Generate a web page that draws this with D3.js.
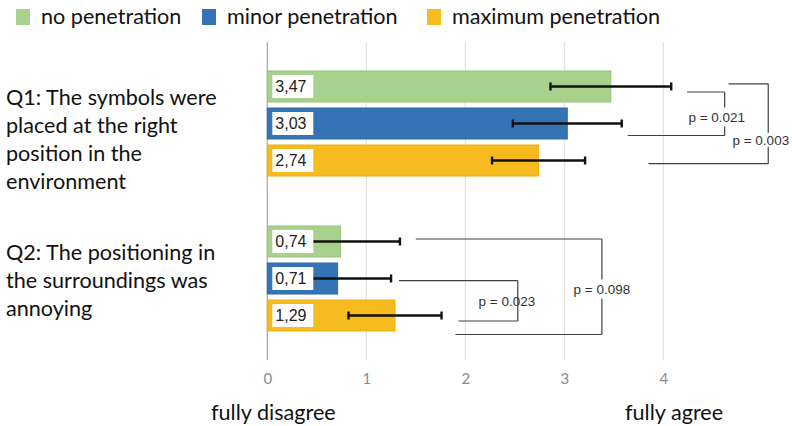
<!DOCTYPE html>
<html><head><meta charset="utf-8">
<script src="https://cdn.jsdelivr.net/npm/d3@7"></script>
<style>body{margin:0;background:#fff}</style>
</head><body><svg id="c" width="792" height="426"></svg>
<script>
// ---------- data ----------
const questions = ["Q1", "Q2"];
const questionLabels = [
  ["Q1: The symbols were", "placed at the right", "position in the", "environment"],
  ["Q2: The positioning in", "the surroundings was", "annoying"]
];
const series = ["no penetration", "minor penetration", "maximum penetration"];
const meansQ1 = [3.47, 3.03, 2.74];
const meansQ2 = [0.74, 0.71, 1.29];
const sdQ1 = [0.61, 0.55, 0.47];
const sdQ2 = [0.60, 0.54, 0.47];
const valueLabelsQ1 = ["3,47", "3,03", "2,74"];
const valueLabelsQ2 = ["0,74", "0,71", "1,29"];
const tickValues = [0, 1, 2, 3, 4];
const axisEndLabels = ["fully disagree", "fully agree"];
// significance brackets: question, upper series, lower series, p text,
// value where top arm starts, value where bottom arm starts, value of vertical line
const bracketQuestion = ["Q1", "Q1", "Q2", "Q2"];
const bracketTop = [0, 0, 1, 0];
const bracketBottom = [1, 2, 2, 2];
const bracketText = ["p = 0.021", "p = 0.003", "p = 0.023", "p = 0.098"];
const bracketTopStart = [4.24, 4.66, 1.33, 1.50];
const bracketBottomStart = [3.64, 3.85, 1.93, 1.90];
const bracketVertical = [4.62, 5.06, 2.53, 3.38];
const bracketTextAt = [4.54, 4.985, 2.42, 3.38];

// ---------- styles / layout ----------
const colors = ["#a9d18e", "#3473b4", "#f6bb1e"];
const strokes = ["#96c47a", "#2f6aa6", "#eeb010"];
const bracketLayout = [ // px offsets: top arm, bottom arm, text from top arm, half-gap
  {top: 5.5, bot: 12, text: 25, gap: 9.5},
  {top: -2.7, bot: 3.2, text: 56, gap: 7},
  {top: 2.1, bot: 5.5, text: 21, gap: 0},
  {top: -2.5, bot: 19, text: 50, gap: 9.5}
];
const FONT = "Lato, 'Open Sans', sans-serif";
const BIG = 21.6;

const svg = d3.select("#c");
const x = d3.scaleLinear().domain([0, 4]).range([267.3, 663.3]);
const y0 = d3.scaleBand().domain(questions).range([46, 356]);
const y1 = d3.scaleBand().domain(d3.range(series.length)).range([0, y0.bandwidth()])
  .paddingInner(0.162).paddingOuter(0.675);

const means = [meansQ1, meansQ2];
const sds = [sdQ1, sdQ2];
const vlabels = [valueLabelsQ1, valueLabelsQ2];
const rows = [];
questions.forEach((q, qi) => series.forEach((s, si) => rows.push({
  q, qi, si, mean: means[qi][si], sd: sds[qi][si], label: vlabels[qi][si]
})));
const cy = (q, si) => y0(q) + y1(si) + y1.bandwidth() / 2;

// grid
const gTop = 42, gBot = 360;
svg.append("g").selectAll("line").data(tickValues.filter(t => t > 0)).join("line")
  .attr("x1", d => x(d)).attr("x2", d => x(d)).attr("y1", gTop).attr("y2", gBot)
  .attr("stroke", "#dcdcdc").attr("stroke-width", 1);

// axis
const axis = d3.axisBottom(x).tickValues(tickValues).tickFormat(d3.format("d"))
  .tickSize(0).tickPadding(13);
const ag = svg.append("g").attr("transform", `translate(0,${gBot})`).call(axis);
ag.select(".domain").remove();
ag.selectAll("text").attr("font-family", FONT)
  .attr("font-size", 15).attr("fill", "#8c8c8c");
svg.append("line").attr("x1", x(0)).attr("x2", x(0)).attr("y1", gTop).attr("y2", gBot)
  .attr("stroke", "#a6a6a6").attr("stroke-width", 1.2);

// bars
svg.append("g").selectAll("rect").data(rows).join("rect")
  .attr("x", x(0)).attr("y", d => y0(d.q) + y1(d.si))
  .attr("width", d => x(d.mean) - x(0)).attr("height", y1.bandwidth())
  .attr("fill", d => colors[d.si]).attr("stroke", d => strokes[d.si]).attr("stroke-width", 1);

// error bars
const eg = svg.append("g").attr("stroke", "#111").attr("stroke-width", 2.4);
rows.forEach(d => {
  const yy = cy(d.q, d.si);
  const a = x(d.mean - d.sd), b = x(d.mean + d.sd);
  eg.append("line").attr("x1", a).attr("x2", b).attr("y1", yy).attr("y2", yy);
  eg.append("line").attr("x1", a).attr("x2", a).attr("y1", yy - 4).attr("y2", yy + 4);
  eg.append("line").attr("x1", b).attr("x2", b).attr("y1", yy - 4).attr("y2", yy + 4);
});

// value label boxes
const lg = svg.append("g");
rows.forEach(d => {
  const top = y0(d.q) + y1(d.si);
  lg.append("rect").attr("x", x(0) + 5).attr("y", top + 4)
    .attr("width", 41).attr("height", y1.bandwidth() - 8).attr("fill", "#fff");
  lg.append("text").attr("x", x(0) + 8).attr("y", top + y1.bandwidth() / 2)
    .attr("dy", "0.36em").attr("font-family", "'Liberation Sans', Arial, sans-serif")
    .attr("font-size", 16).attr("fill", "#222").text(d.label);
});

// brackets
const bg = svg.append("g").attr("stroke", "#404040").attr("stroke-width", 1.2).attr("fill", "none");
bracketText.forEach((t, i) => {
  const L = bracketLayout[i];
  const q = bracketQuestion[i];
  const yt = cy(q, bracketTop[i]) + L.top;
  const yb = cy(q, bracketBottom[i]) + L.bot;
  const xv = x(bracketVertical[i]);
  const ytext = yt + L.text;
  bg.append("line").attr("x1", x(bracketTopStart[i])).attr("x2", xv).attr("y1", yt).attr("y2", yt);
  bg.append("line").attr("x1", x(bracketBottomStart[i])).attr("x2", xv).attr("y1", yb).attr("y2", yb);
  if (L.gap > 0) {
    bg.append("line").attr("x1", xv).attr("x2", xv).attr("y1", yt).attr("y2", ytext - L.gap);
    bg.append("line").attr("x1", xv).attr("x2", xv).attr("y1", ytext + L.gap).attr("y2", yb);
  } else {
    bg.append("line").attr("x1", xv).attr("x2", xv).attr("y1", yt).attr("y2", yb);
  }
  svg.append("text").attr("x", x(bracketTextAt[i])).attr("y", ytext).attr("dy", "0.35em")
    .attr("text-anchor", "middle").attr("font-family", "'Liberation Sans', Arial, sans-serif")
    .attr("font-size", 13.5).attr("fill", "#333").text(t);
});

// question labels
questions.forEach((q, qi) => {
  const c = y0(q) + y0.bandwidth() / 2;
  svg.append("g").selectAll("text").data(questionLabels[qi]).join("text")
    .attr("x", 6).attr("y", (d, i) => c - 26 + i * 28).attr("dy", "0.35em")
    .attr("font-family", FONT).attr("font-size", BIG)
    .attr("fill", "#111").text(d => d);
});

// axis end labels
svg.append("text").attr("x", 211).attr("y", 412).attr("dy", "0.35em")
  .attr("font-family", FONT).attr("font-size", BIG)
  .attr("fill", "#111").text(axisEndLabels[0]);
svg.append("text").attr("x", 625).attr("y", 412).attr("dy", "0.35em")
  .attr("font-family", FONT).attr("font-size", BIG)
  .attr("fill", "#111").text(axisEndLabels[1]);

// legend
const legX = [16, 202, 427];
const legend = svg.append("g");
series.forEach((s, i) => {
  legend.append("rect").attr("x", legX[i]).attr("y", 9).attr("width", 14).attr("height", 16)
    .attr("fill", colors[i]);
  legend.append("text").attr("x", legX[i] + 25).attr("y", 16).attr("dy", "0.35em")
    .attr("font-family", FONT).attr("font-size", BIG)
    .attr("fill", "#111").text(s);
});
</script>
</body></html>
